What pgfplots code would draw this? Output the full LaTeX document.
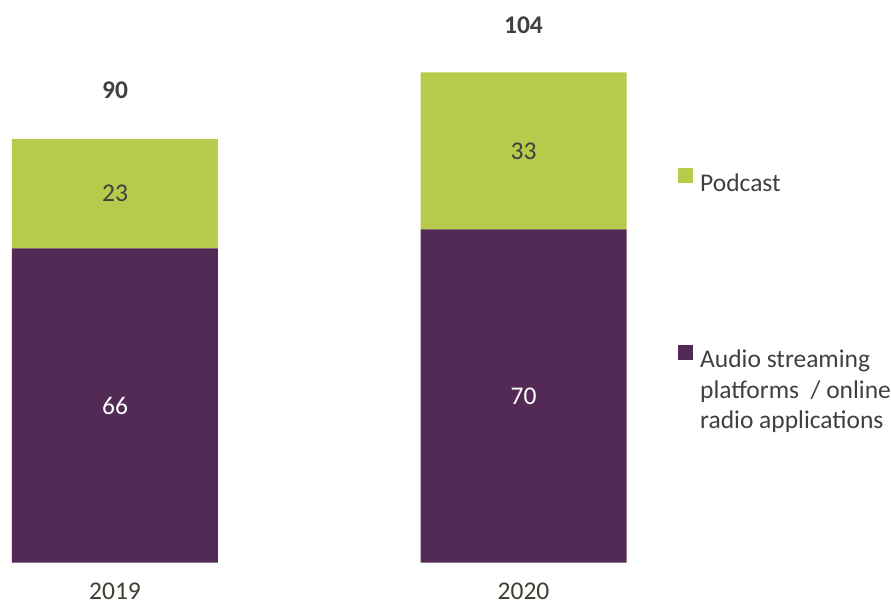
\documentclass[border=0pt]{standalone}
\usepackage{pgfplots}
\usepackage{pgfplotstable}
\pgfplotsset{compat=1.18}
\usepackage{fontspec}
\setmainfont{Carlito}
\definecolor{purp}{HTML}{522A55}
\definecolor{lime}{HTML}{B7CA4C}
\definecolor{txt}{HTML}{404040}
\definecolor{yeartxt}{HTML}{3E4030}
\pgfplotstableread{
x aud pod tot
0 66 23 90
1 70 33 104
}\datatable
\newcommand\chartfont{\fontsize{25.5bp}{30.5bp}\selectfont}
\begin{document}
\begin{tikzpicture}[font=\chartfont]
\begin{axis}[
  scale only axis, width=891bp, height=603bp,
  xmin=-0.2815, xmax=1.8996, ymin=-8.51, ymax=118.22,
  hide axis, clip=false,
  ybar stacked, bar width=206bp,
  reverse legend,
  legend style={draw=none, fill=none, at={(678bp,435bp)}, anchor=north west,
    font=\chartfont, text=txt, column sep=5bp,
    cells={anchor=west, align=left, inner ysep=0pt}, row sep=150bp, inner sep=0pt},
]
\addplot[fill=purp, draw=none,
  legend image code/.code={\fill[purp] (0bp,30.5bp) rectangle (15bp,45.5bp);}]
  table[x=x, y=aud] {\datatable};
\addlegendentry{Audio streaming\\platforms~ / online\\radio applications}
\addplot[fill=lime, draw=none,
  legend image code/.code={\fill[lime] (0bp,0bp) rectangle (15bp,15bp);}]
  table[x=x, y=pod] {\datatable};
\addlegendentry{Podcast}
\coordinate (l66) at (axis cs:0,33);
\coordinate (l23) at (axis cs:0,77.5);
\coordinate (l70) at (axis cs:1,35);
\coordinate (l33) at (axis cs:1,86.5);
\coordinate (t90) at (axis cs:0,99.3);
\coordinate (t104) at (axis cs:1,112.9);
\coordinate (y19) at (axis cs:0,-7.7);
\coordinate (y20) at (axis cs:1,-7.7);
\end{axis}
\node[text=white] at (l66) {66};
\node[text=txt] at (l23) {23};
\node[text=white] at (l70) {70};
\node[text=txt] at (l33) {33};
\node[text=txt, font=\chartfont\bfseries] at (t90) {90};
\node[text=txt, font=\chartfont\bfseries] at (t104) {104};
\node[text=yeartxt, anchor=base, inner sep=0pt] at (y19) {2019};
\node[text=yeartxt, anchor=base, inner sep=0pt] at (y20) {2020};
\pgfresetboundingbox
\path[use as bounding box] (current axis.south west) rectangle (current axis.north east);
\end{tikzpicture}
\end{document}
